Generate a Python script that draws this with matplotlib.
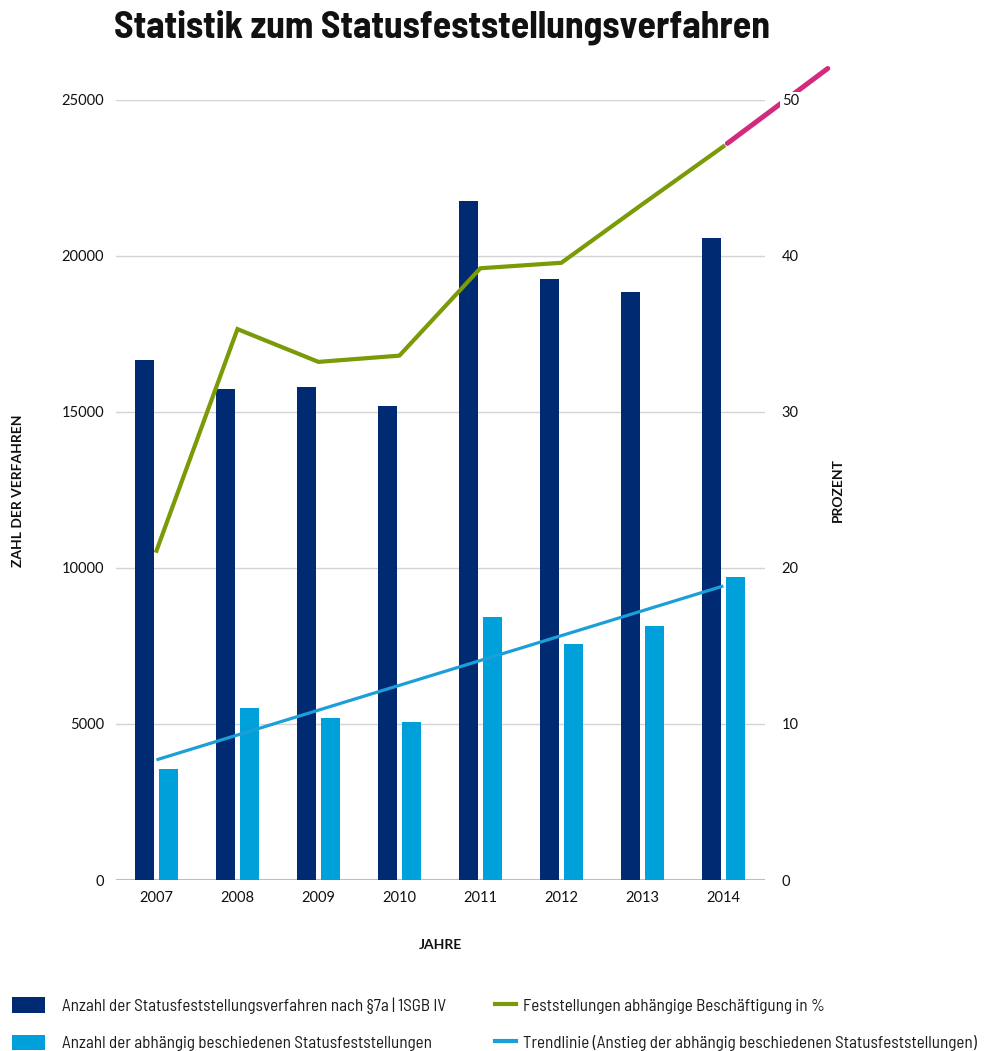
import matplotlib
matplotlib.use("Agg")
import matplotlib.pyplot as plt
from matplotlib import font_manager
from matplotlib.patches import Patch
from matplotlib.lines import Line2D
import numpy as np

# ---- data ----
years = ["2007", "2008", "2009", "2010", "2011", "2012", "2013", "2014"]
verfahren = [16650, 15740, 15800, 15190, 21750, 19240, 18850, 20570]
abhaengig = [3550, 5500, 5180, 5050, 8430, 7575, 8130, 9700]
prozent = [21.1, 35.3, 33.2, 33.6, 39.2, 39.55, 43.3, 47.0]
trend_years_idx = [0, 7]
trend_values = [3850, 9420]
prognose_x = [7.05, 8.29]
prognose_pct = [47.2, 52.0]

left_ticks = [0, 5000, 10000, 15000, 20000, 25000]
right_ticks = [0, 10, 20, 30, 40, 50]

# ---- fonts ----
names = {f.name for f in font_manager.fontManager.ttflist}
def pick(*cands):
    for c in cands:
        if c in names:
            return c
    return "DejaVu Sans"
title_font = pick("Barlow Semi Condensed", "Barlow Condensed", "Asap Condensed")
legend_font = pick("Barlow Semi Condensed", "Archivo Narrow", "Asap Condensed")
tick_font = pick("Lato", "Open Sans", "Noto Sans")

C_DARK = "#002a72"
C_LIGHT = "#00a0da"
C_GREEN = "#7a9a06"
C_TREND = "#1c9fd8"
C_PINK = "#d42a7e"
C_GRID = "#d4d4d4"
C_TXT = "#111111"

fig = plt.figure(figsize=(9.87, 10.51), dpi=100)
ax = fig.add_axes([116.4 / 987, 1 - 880 / 1051, (765 - 116.4) / 987, (880 - 99.7) / 1051])
ax2 = ax.twinx()

x = np.arange(len(years))
w = 0.23
off = 0.148
ax.bar(x - off, verfahren, width=w, color=C_DARK, zorder=2)
ax.bar(x + off, abhaengig, width=w, color=C_LIGHT, zorder=2)
ax.plot([x[i] for i in trend_years_idx], trend_values, color=C_TREND, lw=2.3,
        solid_capstyle="butt", zorder=3)

ax.set_xlim(-0.495, 7.515)
ax.set_ylim(0, 25000)
ax.set_yticks(left_ticks)
ax.set_yticklabels([str(t) for t in left_ticks])
ax.set_xticks(x)
ax.set_xticklabels(years)
ax.grid(axis="y", color=C_GRID, lw=1.0, zorder=0)
ax.set_axisbelow(True)
for s in ax.spines.values():
    s.set_visible(False)
ax.axhline(0, color="#bdbdbd", lw=2.2, zorder=1)
ax.tick_params(axis="both", length=0, labelsize=10.5, colors=C_TXT)
ax.tick_params(axis="y", pad=9)
ax.tick_params(axis="x", pad=8)
for lab in ax.get_xticklabels() + ax.get_yticklabels():
    lab.set_fontfamily(tick_font)

ax2.set_ylim(0, 50)
ax2.set_yticks(right_ticks)
ax2.set_yticklabels([str(t) for t in right_ticks])
for s in ax2.spines.values():
    s.set_visible(False)
ax2.tick_params(axis="y", length=0, labelsize=10.5, pad=12, colors=C_TXT)
ax2.set_axisbelow(False)
ax2.plot(x, prozent, color=C_GREEN, lw=3.0, zorder=1, solid_joinstyle="miter")
ax2.plot(prognose_x, prognose_pct, color=C_PINK, lw=3.6, solid_capstyle="round",
         zorder=1, clip_on=False)
for lab in ax2.get_yticklabels():
    lab.set_fontfamily(tick_font)
    lab.set_bbox(dict(facecolor="white", edgecolor="none", pad=1.5))

# ---- texts ----
title = fig.text(442 / 987, 1 - 27 / 1051, "Statistik zum Statusfeststellungsverfahren",
                 ha="center", va="center", fontsize=28, fontweight="bold",
                 family=title_font, color=C_TXT)
fig.text(18 / 987, 1 - 491 / 1051, "ZAHL DER VERFAHREN", rotation=90, ha="center",
         va="center", fontsize=10, fontweight="bold", family=tick_font, color=C_TXT)
fig.text(838 / 987, 1 - 490 / 1051, "PROZENT", rotation=90, ha="center",
         va="center", fontsize=10, fontweight="bold", family=tick_font, color=C_TXT)
fig.text(440 / 987, 1 - 945 / 1051, "JAHRE", ha="center", va="center",
         fontsize=10, fontweight="bold", family=tick_font, color=C_TXT)

# ---- legends ----
h1 = [Patch(facecolor=C_DARK, edgecolor="none"), Patch(facecolor=C_LIGHT, edgecolor="none")]
l1 = ["Anzahl der Statusfeststellungsverfahren nach §7a | 1SGB IV",
      "Anzahl der abhängig beschiedenen Statusfeststellungen"]
h2 = [Line2D([], [], color=C_GREEN, lw=3), Line2D([], [], color=C_TREND, lw=3)]
l2 = ["Feststellungen abhängige Beschäftigung in %",
      "Trendlinie (Anstieg der abhängig beschiedenen Statusfeststellungen)"]

# fit the legend font size to the reference label width
renderer = fig.canvas.get_renderer()
probe = fig.text(0, 0, l2[1], fontsize=12, family=legend_font)
wpx = probe.get_window_extent(renderer).width
probe.remove()
leg_fs = 12 * 453 / wpx

# fit title width
tw = title.get_window_extent(renderer).width
title.set_fontsize(28 * 657 / tw)

fs_px = leg_fs * 100 / 72
leg1 = fig.legend(h1, l1, loc="center left", bbox_to_anchor=(12 / 987, 1 - 1024 / 1051),
                  frameon=False, handlelength=33 / fs_px, handleheight=18 / fs_px,
                  handletextpad=17 / fs_px, labelspacing=(39 - 18) / fs_px,
                  borderaxespad=0, borderpad=0,
                  prop={"family": legend_font, "size": leg_fs})
leg2 = fig.legend(h2, l2, loc="center left", bbox_to_anchor=(495 / 987, 1 - 1024 / 1051),
                  frameon=False, handlelength=21 / fs_px, handleheight=18 / fs_px,
                  handletextpad=7 / fs_px, labelspacing=(39 - 18) / fs_px,
                  borderaxespad=0, borderpad=0,
                  prop={"family": legend_font, "size": leg_fs})
for t in leg1.get_texts() + leg2.get_texts():
    t.set_color("#1a1a1a")

fig.savefig("out.png", dpi=100)
